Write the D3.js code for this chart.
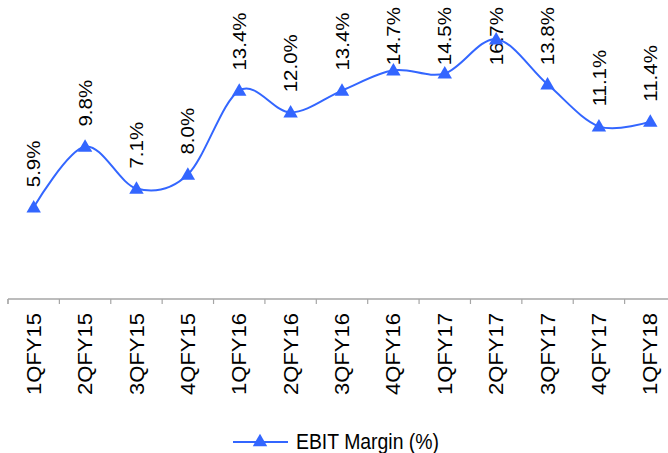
<!DOCTYPE html>
<html>
<head>
<meta charset="utf-8">
<script src="https://cdn.jsdelivr.net/npm/d3@7"></script>
<style>
  html, body { margin: 0; padding: 0; background: #fff; }
  svg { display: block; }
  text { font-family: "Liberation Sans", Arial, sans-serif; fill: #000; }
</style>
</head>
<body>
<svg id="chart" width="668" height="453"></svg>
<script>
// Quarterly EBIT margin, %
const quarters = ["1QFY15", "2QFY15", "3QFY15", "4QFY15", "1QFY16", "2QFY16", "3QFY16",
                  "4QFY16", "1QFY17", "2QFY17", "3QFY17", "4QFY17", "1QFY18"];
const ebitMargin = [5.9, 9.8, 7.1, 8.0, 13.4, 12.0, 13.4, 14.7, 14.5, 16.7, 13.8, 11.1, 11.4];
const seriesName = "EBIT Margin (%)";

const W = 668, H = 453;
const lineColor = "#3366ff";
const axisColor = "#a6a6a6";
const squash = 0.89; // glyphs are drawn slightly narrow

const svg = d3.select("#chart");

const x = d3.scaleBand().domain(quarters).range([8, 676]);
const y = d3.scaleLinear().domain([0, 18]).range([299, 19]);

const cx = d => x(d) + x.bandwidth() / 2;

// Category axis
const axis = svg.append("g").attr("transform", `translate(0,${y(0)})`);
axis.append("line")
  .attr("x1", x.range()[0]).attr("x2", W)
  .attr("stroke", axisColor).attr("stroke-width", 1.5);
axis.selectAll("line.tick")
  .data(quarters)
  .join("line")
  .attr("class", "tick")
  .attr("x1", d => x(d)).attr("x2", d => x(d))
  .attr("y1", 0).attr("y2", 5)
  .attr("stroke", axisColor).attr("stroke-width", 1.2);
axis.append("line")
  .attr("x1", x.range()[0]).attr("x2", x.range()[0])
  .attr("y1", 0).attr("y2", 5)
  .attr("stroke", axisColor).attr("stroke-width", 1.2);

axis.selectAll("text.cat")
  .data(quarters)
  .join("text")
  .attr("class", "cat")
  .attr("transform", d => `translate(${cx(d)},14) scale(${squash},1) rotate(-90)`)
  .attr("text-anchor", "end")
  .attr("dy", "0.36em")
  .style("font-size", "22px")
  .text(d => d);

const pts = quarters.map((q, i) => ({ q, v: ebitMargin[i] }));

// Value labels, kept inside the top edge
const labels = svg.append("g");
labels.selectAll("text")
  .data(pts)
  .join("text")
  .attr("text-anchor", "start")
  .attr("dy", "0.36em")
  .style("font-size", "20.5px")
  .text(d => d.v.toFixed(1) + "%")
  .each(function (d) {
    const len = this.getComputedTextLength();
    const yb = Math.max(y(d.v) - 20, 7 + len);
    d3.select(this).attr("transform",
      `translate(${cx(d.q)},${yb}) scale(${squash},1) rotate(-90)`);
  });

// Smoothed series line
const line = d3.line()
  .x(d => cx(d.q))
  .y(d => y(d.v))
  .curve(d3.curveCatmullRom.alpha(0));

svg.append("path")
  .datum(pts)
  .attr("d", line)
  .attr("fill", "none")
  .attr("stroke", lineColor)
  .attr("stroke-width", 2);

const tri = d3.symbol().type(d3.symbolTriangle).size(90);
svg.append("g").selectAll("path")
  .data(pts)
  .join("path")
  .attr("transform", d => `translate(${cx(d.q)},${y(d.v) + 1})`)
  .attr("d", tri)
  .attr("fill", lineColor);

// Legend
const lg = svg.append("g").attr("transform", "translate(233,442)");
lg.append("line").attr("x1", 0).attr("x2", 55)
  .attr("stroke", lineColor).attr("stroke-width", 2);
lg.append("path").attr("transform", "translate(27,0)").attr("d", tri).attr("fill", lineColor);
lg.append("text")
  .attr("transform", `translate(63,5) scale(${squash},1)`)
  .attr("dy", "0.1em")
  .style("font-size", "21.8px")
  .text(seriesName);
</script>
</body>
</html>
